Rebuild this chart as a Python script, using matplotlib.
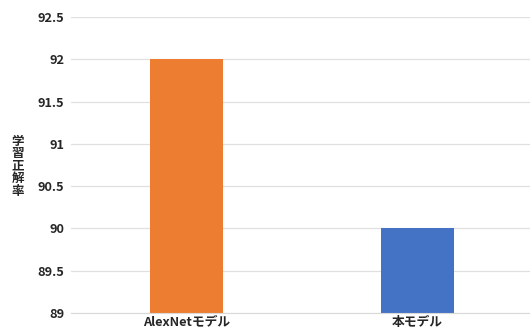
import matplotlib
matplotlib.use("Agg")
import matplotlib.pyplot as plt

plt.rcParams['font.family'] = ['Noto Sans CJK JP', 'DejaVu Sans']

categories = ["AlexNetモデル", "本モデル"]
values = [92.0, 90.0]
colors = ["#ED7D31", "#4472C4"]
y_ticks = [89, 89.5, 90, 90.5, 91, 91.5, 92, 92.5]
y_tick_labels = ["89", "89.5", "90", "90.5", "91", "91.5", "92", "92.5"]
y_label = "学習正解率"

fig = plt.figure(figsize=(5.30, 3.32), dpi=100)
ax = fig.add_axes([71 / 530, 19 / 332, 462 / 530, 296 / 332])

x = range(len(categories))
ax.bar(x, [v - 89 for v in values], bottom=89, width=0.312, color=colors, zorder=3)

ax.set_xlim(-0.5, len(categories) - 0.5)
ax.set_ylim(89, 92.5)
ax.set_yticks(y_ticks)
ax.set_yticklabels(y_tick_labels, fontsize=9.2, fontweight='bold', color='#262626')
ax.set_xticks(list(x))
ax.set_xticklabels(categories, fontsize=9.2, fontweight='bold', color='#262626')
ax.tick_params(axis='y', length=0, pad=5)
ax.tick_params(axis='x', length=0, pad=2)
ax.yaxis.grid(True, color='#E0E0E0', linewidth=0.9, zorder=0)
for side in ['top', 'right', 'left']:
    ax.spines[side].set_visible(False)
ax.spines['bottom'].set_color('#D9D9D9')
ax.spines['bottom'].set_zorder(4)

fig.text(18 / 530, 1 - 166 / 332, "\n".join(y_label), ha='center', va='center',
         fontsize=9, fontweight='bold', color='#262626', linespacing=0.95)

fig.savefig("out.png", dpi=100, facecolor='white')
